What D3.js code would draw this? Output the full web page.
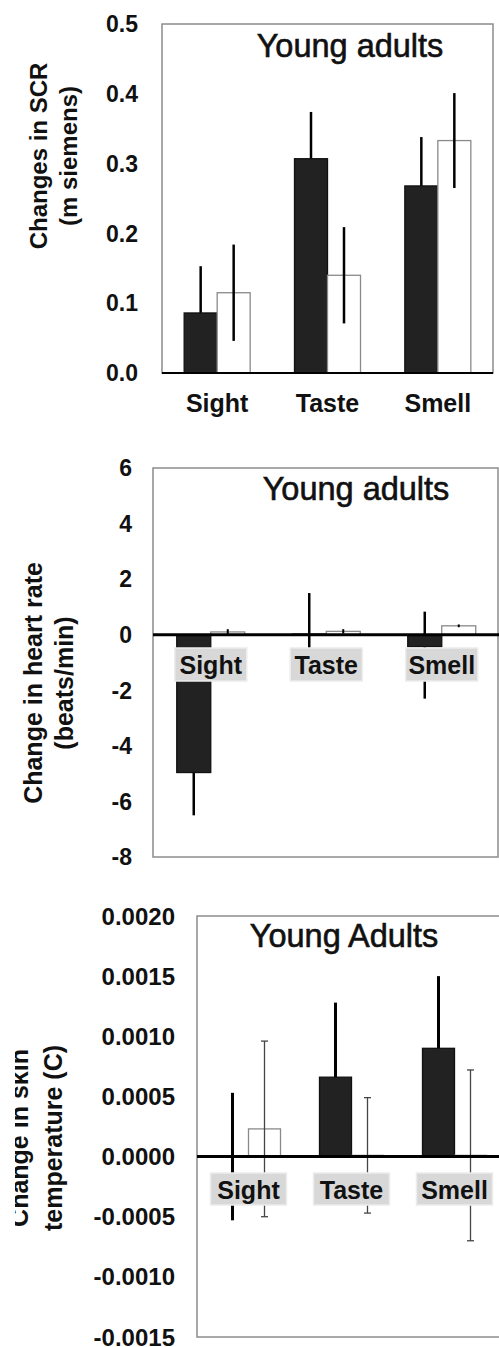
<!DOCTYPE html>
<html>
<head>
<meta charset="utf-8">
<script src="https://cdn.jsdelivr.net/npm/d3@7"></script>
<style>
  body { margin: 0; background: #fff; }
  text { font-family: "Liberation Sans", Arial, sans-serif; }
</style>
</head>
<body>
<script>
const senses = ["Sight", "Taste", "Smell"];

// Panel 1: skin conductance response
const scrTicks = [0.0, 0.1, 0.2, 0.3, 0.4, 0.5];
const scrDark = [0.086, 0.307, 0.268];
const scrDarkErr = [0.067, 0.067, 0.070];
const scrLight = [0.115, 0.140, 0.333];
const scrLightErr = [0.069, 0.069, 0.068];

// Panel 2: heart rate (dark error bars are lopsided, so up/down kept apart)
const hrTicks = [-8, -6, -4, -2, 0, 2, 4, 6];
const hrDark = [-4.96, 0.02, -0.43];
const hrDarkErrUp = [1.54, 1.48, 1.26];
const hrDarkErrDown = [1.54, 1.50, 1.87];
const hrLight = [0.10, 0.12, 0.32];
const hrLightErr = [0.10, 0.08, 0.05];

// Panel 3: skin temperature
const tempTicks = [-0.0015, -0.0010, -0.0005, 0.0000, 0.0005, 0.0010, 0.0015, 0.0020];
const tempDark = [0.0, 0.00066, 0.00090];
const tempDarkErr = [0.00053, 0.00062, 0.00060];
const tempLight = [0.00023, 0.00001, 0.00001];
const tempLightErr = [0.00073, 0.00048, 0.00071];

// plain hyphen for negatives, like the original
const loc = d3.formatLocale({ decimal: ".", thousands: ",", grouping: [3], currency: ["", ""], minus: "-" });

const svg = d3.select("body").append("svg").attr("width", 499).attr("height", 1347);

function drawPanel(o) {
  const g = svg.append("g");

  const x = d3.scaleBand().domain(senses).range([o.left, o.right]).padding(0);
  const po = (x.bandwidth() / o.barW - 2) / 2;
  const xs = d3.scaleBand().domain(["dark", "light"]).range([0, x.bandwidth()])
    .paddingInner(0).paddingOuter(po);
  const y = d3.scaleLinear().domain(d3.extent(o.ticks)).range([o.bottom, o.top]);
  const cx = (key, i) => x(senses[i]) + xs(key) + xs.bandwidth() / 2;

  // frame
  g.append("rect")
    .attr("x", o.left).attr("y", o.top)
    .attr("width", o.boxRight - o.left).attr("height", o.bottom - o.top)
    .attr("fill", "none").attr("stroke", "#8c8c8c").attr("stroke-width", 1.5);

  // tick labels
  g.selectAll(".tick").data(o.ticks).join("text")
    .attr("x", o.tickX).attr("y", d => y(d)).attr("dy", "0.36em")
    .attr("text-anchor", "end").attr("font-weight", "bold")
    .attr("font-size", o.tickSize).attr("fill", "#111")
    .text(o.fmt);

  // dark error bars sit behind their bars, so only the part outside shows
  g.selectAll(".edark").data(o.dark).join("line")
    .attr("x1", (d, i) => cx("dark", i)).attr("x2", (d, i) => cx("dark", i))
    .attr("y1", (d, i) => y(d + o.darkUp[i])).attr("y2", (d, i) => y(d - o.darkDown[i]))
    .attr("stroke", "#000").attr("stroke-width", o.darkErrW);

  // bars
  const series = [
    { key: "dark", vals: o.dark, fill: "#222", stroke: "#111" },
    { key: "light", vals: o.light, fill: "#fff", stroke: "#8a8a8a" }
  ];
  series.forEach(s => {
    g.selectAll(".b" + s.key).data(s.vals).join("rect")
      .attr("x", (d, i) => x(senses[i]) + xs(s.key))
      .attr("width", xs.bandwidth())
      .attr("y", d => y(Math.max(0, d)))
      .attr("height", d => Math.abs(y(d) - y(0)))
      .attr("fill", s.fill).attr("stroke", s.stroke).attr("stroke-width", 1.3);
  });

  // light error bars
  g.selectAll(".elight").data(o.light).join("line")
    .attr("x1", (d, i) => cx("light", i)).attr("x2", (d, i) => cx("light", i))
    .attr("y1", (d, i) => y(d + o.lightUp[i])).attr("y2", (d, i) => y(d - o.lightDown[i]))
    .attr("stroke", o.lightErrC).attr("stroke-width", o.lightErrW);
  if (o.cap > 0) {
    ["up", "down"].forEach(side => {
      const yy = (d, i) => side == "up" ? y(d + o.lightUp[i]) : y(d - o.lightDown[i]);
      g.selectAll(".c" + side).data(o.light).join("line")
        .attr("x1", (d, i) => cx("light", i) - o.cap / 2).attr("x2", (d, i) => cx("light", i) + o.cap / 2)
        .attr("y1", yy).attr("y2", yy)
        .attr("stroke", o.lightErrC).attr("stroke-width", o.lightErrW);
    });
  }

  // zero line
  g.append("line")
    .attr("x1", o.left).attr("x2", o.zeroRight)
    .attr("y1", y(0)).attr("y2", y(0))
    .attr("stroke", "#000").attr("stroke-width", o.zeroW);

  // category labels (with grey boxes where the original has them)
  senses.forEach((s, i) => {
    const mid = x(s) + x.bandwidth() / 2;
    if (o.labelBox) {
      g.append("rect")
        .attr("x", mid - o.labelBox.w / 2).attr("y", o.labelBox.y)
        .attr("width", o.labelBox.w).attr("height", o.labelBox.h)
        .attr("fill", "#d8d8d8").attr("stroke", "#ececec").attr("stroke-width", 1.5);
    }
    g.append("text")
      .attr("x", mid).attr("y", o.labelY)
      .attr("text-anchor", "middle").attr("font-weight", "bold")
      .attr("font-size", o.labelSize).attr("fill", "#111")
      .text(s);
  });

  // title
  g.append("text")
    .attr("x", o.titleX).attr("y", o.titleY)
    .attr("text-anchor", "middle").attr("font-size", 32.5).attr("fill", "#111")
    .attr("stroke", "#111").attr("stroke-width", 0.6)
    .text(o.title);

  // y axis label, two lines
  const lab = g.append("g");
  if (o.clipX) {
    const id = "clip" + Math.round(o.top);
    svg.append("clipPath").attr("id", id).append("rect")
      .attr("x", o.clipX).attr("y", o.top).attr("width", 200).attr("height", o.bottom - o.top);
    lab.attr("clip-path", `url(#${id})`);
  }
  o.ylab.forEach((t, i) => {
    lab.append("text")
      .attr("transform", `translate(${o.ylabX[i]},${o.ylabY}) rotate(-90)`)
      .attr("text-anchor", "middle").attr("font-weight", "bold")
      .attr("font-size", o.ylabSize).attr("fill", "#111")
      .text(t);
  });
}

drawPanel({
  left: 162, right: 493, boxRight: 493, zeroRight: 493, top: 24, bottom: 373,
  ticks: scrTicks, fmt: loc.format(".1f"), tickX: 138, tickSize: 23,
  dark: scrDark, darkUp: scrDarkErr, darkDown: scrDarkErr,
  light: scrLight, lightUp: scrLightErr, lightDown: scrLightErr,
  barW: 33, darkErrW: 2.5, lightErrW: 2.5, lightErrC: "#000", cap: 0, zeroW: 2,
  labelY: 412, labelSize: 25, labelBox: null,
  title: "Young adults", titleX: 350, titleY: 57,
  ylab: ["Changes in SCR", "(m siemens)"], ylabX: [47, 77], ylabY: 156, ylabSize: 24
});

drawPanel({
  left: 153, right: 499.5, boxRight: 498, zeroRight: 499, top: 468, bottom: 857,
  ticks: hrTicks, fmt: loc.format("d"), tickX: 132, tickSize: 23,
  dark: hrDark, darkUp: hrDarkErrUp, darkDown: hrDarkErrDown,
  light: hrLight, lightUp: hrLightErr, lightDown: hrLightErr,
  barW: 34, darkErrW: 2.5, lightErrW: 2, lightErrC: "#000", cap: 0, zeroW: 3,
  labelY: 674, labelSize: 25, labelBox: { y: 648, h: 33, w: 72 },
  title: "Young adults", titleX: 356, titleY: 500,
  ylab: ["Change in heart rate", "(beats/min)"], ylabX: [42, 73], ylabY: 683, ylabSize: 25
});

drawPanel({
  left: 197, right: 506, boxRight: 506, zeroRight: 499, top: 916, bottom: 1337,
  ticks: tempTicks, fmt: loc.format(".4f"), tickX: 175, tickSize: 24,
  dark: tempDark, darkUp: tempDarkErr, darkDown: tempDarkErr,
  light: tempLight, lightUp: tempLightErr, lightDown: tempLightErr,
  barW: 32, darkErrW: 3, lightErrW: 1.3, lightErrC: "#444", cap: 7, zeroW: 3,
  labelY: 1199, labelSize: 25, labelBox: { y: 1173, h: 32, w: 76 },
  title: "Young Adults", titleX: 344, titleY: 947,
  ylab: ["Change in skin", "temperature (C)"], ylabX: [28, 62], ylabY: 1138, ylabSize: 25,
  clipX: 15
});
</script>
</body>
</html>
